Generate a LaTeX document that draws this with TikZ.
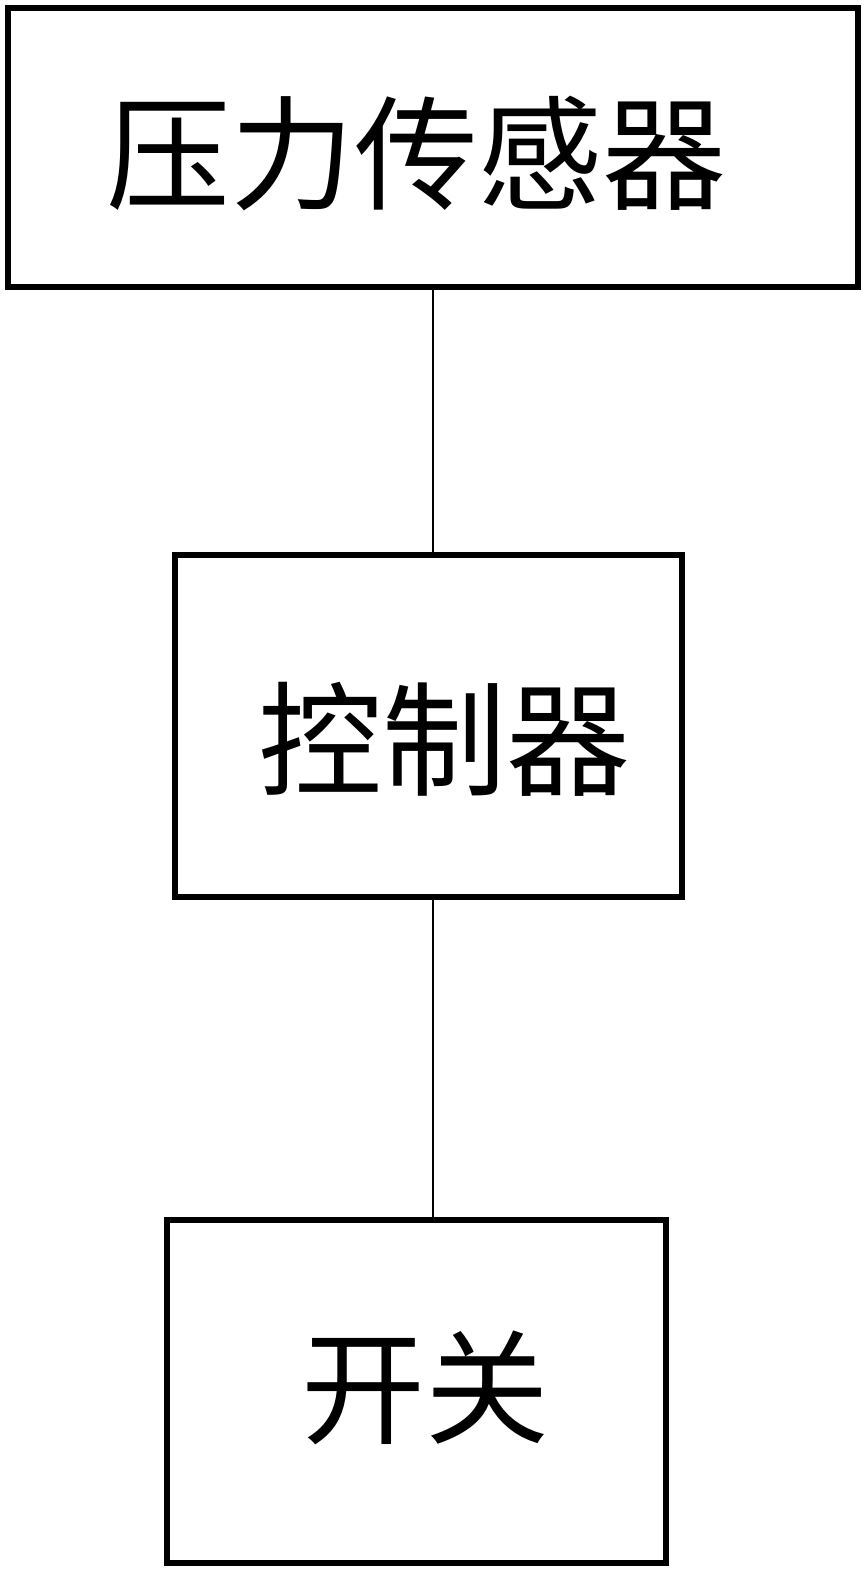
\documentclass[tikz,border=0pt]{standalone}
\usepackage{fontspec}
\newfontfamily\cjk{Noto Sans CJK SC}
\begin{document}
\begin{tikzpicture}[x=1pt,y=-1pt,
  blk/.style={draw=black,line width=5.5pt,inner sep=0pt},
  lbl/.style={font=\cjk\fontsize{124}{124}\selectfont,inner sep=0pt},
  conn/.style={draw=black,line width=2pt}]
\useasboundingbox (0,0) rectangle (864,1571);
\fill[white] (0,0) rectangle (864,1571);
\node[blk,minimum width=850pt,minimum height=279pt] (b1) at (433,147.5) {};
\node[blk,minimum width=507pt,minimum height=342pt] (b2) at (428.5,726) {};
\node[blk,minimum width=499pt,minimum height=343pt] (b3) at (416.5,1391.5) {};
\node[lbl] (t1) at (416,154) {压力传感器};
\node[lbl] (t2) at (444,739) {控制器};
\node[lbl] (t3) at (425,1388) {开关};
\draw[conn] (b1.south -| 433,0) -- (b2.north -| 433,0);
\draw[conn] (b2.south -| 433,0) -- (b3.north -| 433,0);
\end{tikzpicture}
\end{document}
